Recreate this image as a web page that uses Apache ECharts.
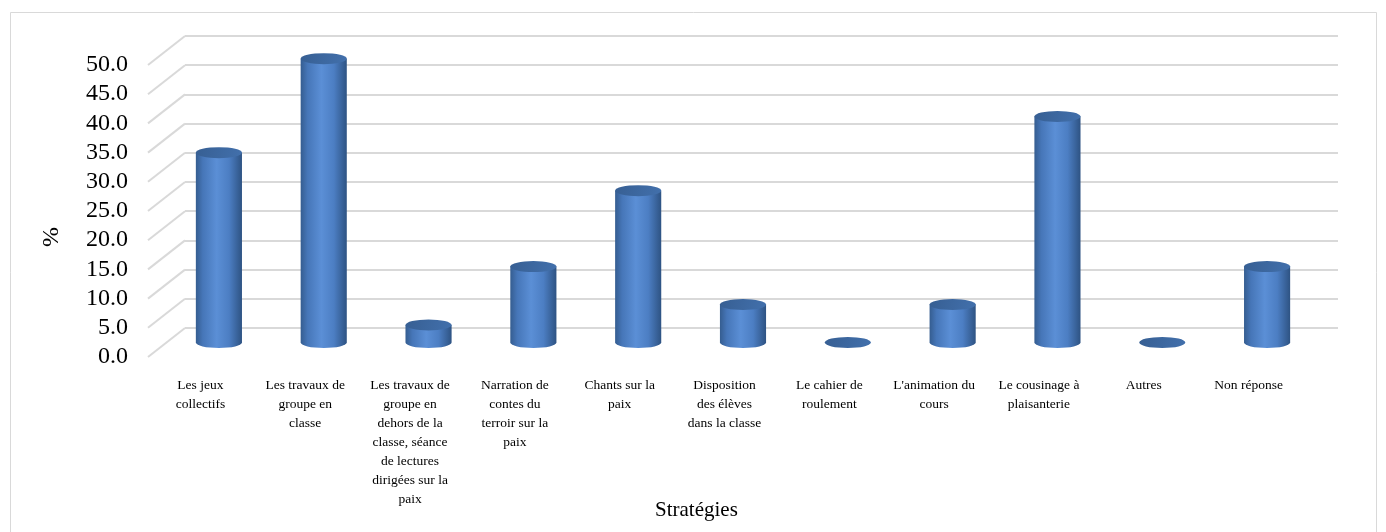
<!DOCTYPE html>
<html>
<head>
<meta charset="utf-8">
<script src="https://cdn.jsdelivr.net/npm/echarts@6/dist/echarts.min.js"></script>
<style>html,body{margin:0;padding:0;background:#fff;}#c{width:1386px;height:532px;}</style>
</head>
<body>
<div id="c"></div>
<script>
const categories = [
  'Les jeux\ncollectifs',
  'Les travaux de\ngroupe en\nclasse',
  'Les travaux de\ngroupe en\ndehors de la\nclasse, séance\nde lectures\ndirigées sur la\npaix',
  'Narration de\ncontes du\nterroir sur la\npaix',
  'Chants sur la\npaix',
  'Disposition\ndes élèves\ndans la classe',
  'Le cahier de\nroulement',
  "L'animation du\ncours",
  'Le cousinage à\nplaisanterie',
  'Autres',
  'Non réponse'
];
const values = [32.5, 48.6, 3.0, 13.0, 26.0, 6.5, 0, 6.5, 38.7, 0, 13.0];
const yTicks = [0, 5, 10, 15, 20, 25, 30, 35, 40, 45, 50];

const DX = 37, DY = 29;   // 3D depth offset (front plane is left/down of back plane)
const FONT = '"Liberation Serif", "Times New Roman", serif';

const chart = echarts.init(document.getElementById('c'), null, {renderer: 'canvas'});

function ellipsePath(cx, cy, rx, ry) {
  return 'M' + (cx - rx) + ' ' + cy +
    ' A' + rx + ' ' + ry + ' 0 1 0 ' + (cx + rx) + ' ' + cy +
    ' A' + rx + ' ' + ry + ' 0 1 0 ' + (cx - rx) + ' ' + cy + ' Z';
}

const option = {
  animation: false,
  backgroundColor: '#fff',
  title: {
    text: 'Stratégies',
    left: 650, top: 495,
    textStyle: {fontFamily: FONT, fontSize: 21, fontWeight: 'normal', color: '#000'}
  },
  graphic: [
    {type: 'rect', shape: {x: 10.5, y: 12.5, width: 1366, height: 530}, style: {fill: 'none', stroke: '#d9d9d9', lineWidth: 1}, silent: true},
    {type: 'text', x: 52, y: 237, rotation: Math.PI / 2,
     style: {text: '%', fontFamily: FONT, fontSize: 24, fill: '#000', align: 'center', verticalAlign: 'middle'}}
  ],
  grid: [
    {left: 185, right: 48, top: 36, bottom: 204},   // back wall
    {left: 148, right: 85, top: 65, bottom: 175}    // front plane (labels)
  ],
  xAxis: [
    {type: 'category', gridIndex: 0, data: categories, show: false},
    {type: 'category', gridIndex: 1, data: categories,
     axisLine: {show: false}, axisTick: {show: false},
     axisLabel: {interval: 0, margin: 19, fontFamily: FONT, fontSize: 13.5, lineHeight: 19, color: '#000', align: 'center', verticalAlign: 'top'}}
  ],
  yAxis: [
    {type: 'value', gridIndex: 0, min: 0, max: 50, interval: 5,
     axisLine: {show: false}, axisTick: {show: false}, axisLabel: {show: false},
     splitLine: {show: true, lineStyle: {color: '#d9d9d9', width: 2}}},
    {type: 'value', gridIndex: 1, min: 0, max: 50, interval: 5,
     axisLine: {show: false}, axisTick: {show: false}, splitLine: {show: false},
     axisLabel: {margin: 20, fontFamily: FONT, fontSize: 24, color: '#000',
                 formatter: v => v.toFixed(1)}}
  ],
  series: [
    {
      type: 'custom', name: 'depthLines', xAxisIndex: 0, yAxisIndex: 0, silent: true, z: 1,
      encode: {x: 0, y: 1},
      data: yTicks.map(v => [0, v]),
      renderItem: function (params, api) {
        const p = api.coord([0, api.value(1)]);
        const x0 = params.coordSys.x;
        return {
          type: 'line',
          shape: {x1: x0, y1: p[1], x2: x0 - DX, y2: p[1] + DY},
          style: {stroke: '#d9d9d9', lineWidth: 2}
        };
      }
    },
    {
      type: 'custom', name: '%', xAxisIndex: 0, yAxisIndex: 0, z: 3,
      encode: {x: 0, y: 1},
      data: values.map((v, i) => [i, v]),
      renderItem: function (params, api) {
        const top = api.coord([api.value(0), api.value(1)]);
        const base = api.coord([api.value(0), 0]);
        const bw = api.size([1, 0])[0] * 0.44;
        const cx = top[0] - DX / 2;
        const ty = top[1] + DY / 2;
        const by = base[1] + DY / 2;
        const rx = bw / 2, ry = 5.5;
        const bodyPath = 'M' + (cx - rx) + ' ' + ty + ' L' + (cx - rx) + ' ' + by +
          ' A' + rx + ' ' + ry + ' 0 0 0 ' + (cx + rx) + ' ' + by +
          ' L' + (cx + rx) + ' ' + ty + ' Z';
        const bodyFill = {
          type: 'linear', x: 0, y: 0, x2: 1, y2: 0,
          colorStops: [
            {offset: 0, color: '#355d90'},
            {offset: 0.15, color: '#4676b8'},
            {offset: 0.45, color: '#5b8fd6'},
            {offset: 0.72, color: '#4c7ec3'},
            {offset: 1, color: '#2e5383'}
          ]
        };
        const topFill = {
          type: 'linear', x: 0, y: 0, x2: 1, y2: 1,
          colorStops: [
            {offset: 0, color: '#375f93'},
            {offset: 1, color: '#4270ac'}
          ]
        };
        const children = [];
        if (by - ty > 0.5) {
          children.push({type: 'path', shape: {pathData: bodyPath}, style: {fill: bodyFill}});
        }
        children.push({type: 'path', shape: {pathData: ellipsePath(cx, ty, rx, ry)}, style: {fill: topFill}});
        return {type: 'group', children: children};
      }
    }
  ]
};
chart.setOption(option);
</script>
</body>
</html>
